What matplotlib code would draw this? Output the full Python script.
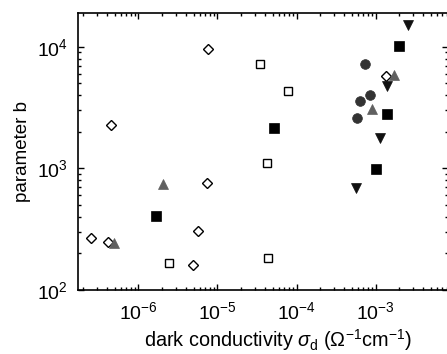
import matplotlib
matplotlib.use("Agg")
import matplotlib.pyplot as plt
from matplotlib.ticker import LogLocator, NullFormatter

plt.rcParams['font.family'] = ['Liberation Sans', 'DejaVu Sans']
plt.rcParams['mathtext.fontset'] = 'custom'
plt.rcParams['mathtext.rm'] = 'Liberation Sans'
plt.rcParams['mathtext.it'] = 'Liberation Sans:italic'
plt.rcParams['mathtext.sf'] = 'Liberation Sans'

# open diamonds
dia_x = [2.5e-7, 4.1e-7, 4.5e-7, 7.5e-6, 7.3e-6, 5.7e-6, 4.97e-6, 1.36e-3]
dia_y = [267, 250, 2275, 9640, 760, 308, 160, 5740]
# open squares
osq_x = [2.45e-6, 3.47e-5, 7.7e-5, 4.2e-5, 4.4e-5]
osq_y = [167, 7170, 4350, 1107, 185]
# filled squares
fsq_x = [1.67e-6, 5.2e-5, 1.0e-3, 1.38e-3, 1.98e-3]
fsq_y = [408, 2150, 990, 2800, 10100]
# gray up triangles
tri_x = [4.97e-7, 2.06e-6, 9.1e-4, 1.69e-3]
tri_y = [245, 740, 3050, 5850]
# black down triangles
dtri_x = [5.7e-4, 1.15e-3, 1.39e-3, 2.54e-3]
dtri_y = [690, 1770, 4800, 1.52e4]
# dark gray circles
cir_x = [5.75e-4, 6.4e-4, 8.57e-4, 7.35e-4]
cir_y = [2610, 3580, 4030, 7170]

fig = plt.figure(figsize=(4.47, 3.54), dpi=100)
ax = fig.add_axes([77.7/447, 64/354, (448-77.7)/447, (290-12.7)/354])

ax.plot(dia_x, dia_y, linestyle='none', marker='D', ms=5.6, mfc='white', mec='black', mew=1.0)
ax.plot(osq_x, osq_y, linestyle='none', marker='s', ms=6.3, mfc='white', mec='black', mew=1.0)
ax.plot(fsq_x, fsq_y, linestyle='none', marker='s', ms=6.5, mfc='black', mec='black', mew=0.5)
ax.plot(tri_x, tri_y, linestyle='none', marker='^', ms=7.5, mfc='#606060', mec='#606060', mew=0.5)
ax.plot(dtri_x, dtri_y, linestyle='none', marker='v', ms=7.5, mfc='#111111', mec='#111111', mew=0.5)
ax.plot(cir_x, cir_y, linestyle='none', marker='o', ms=7, mfc='#333333', mec='#333333', mew=0.5)

ax.set_xscale('log')
ax.set_yscale('log')
ax.set_xlim(10**-6.767, 10**-2.085)
ax.set_ylim(100, 10**4.28)

ax.xaxis.set_major_locator(LogLocator(base=10, numticks=20))
ax.xaxis.set_minor_locator(LogLocator(base=10, subs=range(2, 10), numticks=50))
ax.yaxis.set_major_locator(LogLocator(base=10, numticks=20))
ax.yaxis.set_minor_locator(LogLocator(base=10, subs=range(2, 10), numticks=50))
ax.xaxis.set_minor_formatter(NullFormatter())
ax.yaxis.set_minor_formatter(NullFormatter())

ax.tick_params(which='both', direction='in', top=True, right=True, labelsize=14, width=1.0)
ax.tick_params(axis='x', pad=8)
ax.tick_params(axis='y', pad=7)
ax.tick_params(which='major', length=4.5)
ax.tick_params(which='minor', length=2.5)
for s in ax.spines.values():
    s.set_linewidth(1.2)

ax.set_xlabel(r'dark conductivity $\sigma_{\rm d}$ ($\Omega^{-1}$cm$^{-1}$)', fontsize=14.3, labelpad=3)
ax.xaxis.label.set_x(0.54)
ax.set_ylabel('parameter b', fontsize=13.5, labelpad=4)

fig.savefig('out.png', dpi=100)
